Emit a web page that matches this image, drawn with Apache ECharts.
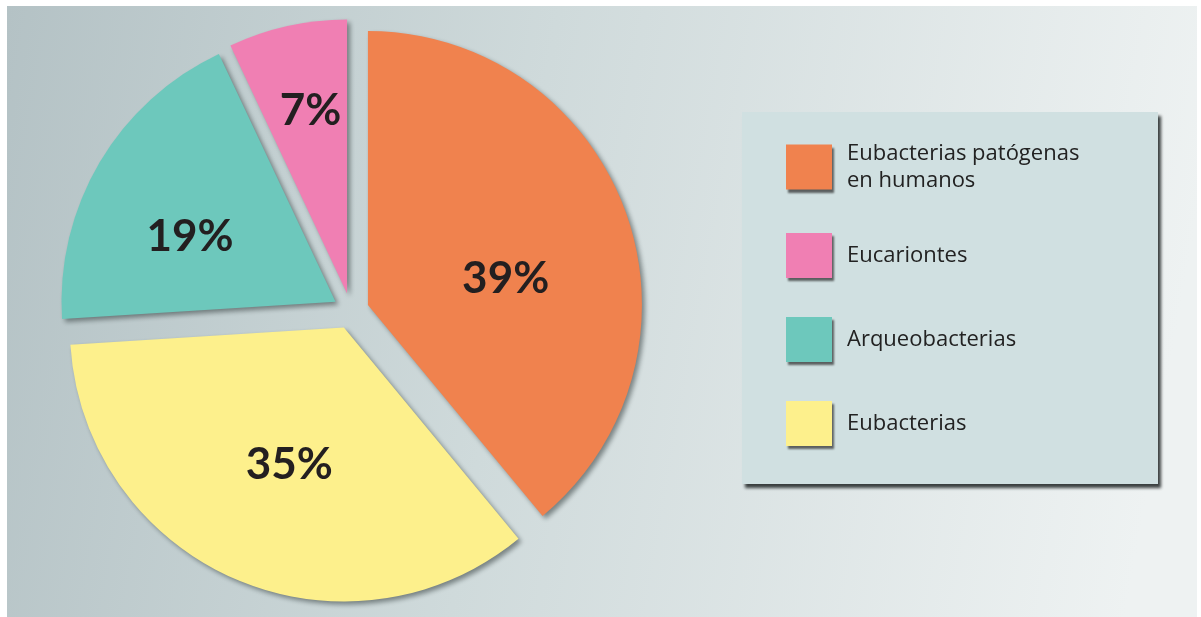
<!DOCTYPE html>
<html>
<head>
<meta charset="utf-8">
<script src="https://cdn.jsdelivr.net/npm/echarts@6/dist/echarts.min.js"></script>
<style>
html,body{margin:0;padding:0;background:#ffffff;}
#chart{width:1201px;height:617px;}
</style>
</head>
<body>
<div id="chart"></div>
<script>
// Data
const categories = ['Eubacterias patógenas\nen humanos', 'Eubacterias', 'Arqueobacterias', 'Eucariontes'];
const values = [39, 35, 19, 7];
const legendOrder = ['Eubacterias patógenas\nen humanos', 'Eucariontes', 'Arqueobacterias', 'Eubacterias'];

// Styling (not data)
const sliceColors = ['#f0824e', '#fdf08c', '#6dc8bc', '#f07fb3'];
const labelShift = [[6, 21], [1, 9], [-25, 6], [-6, -46]];

const chart = echarts.init(document.getElementById('chart'), null, {renderer: 'canvas'});

const option = {
  animation: false,
  backgroundColor: '#ffffff',
  graphic: [
    {
      type: 'rect', z: -10, silent: true,
      shape: {x: 7, y: 6, width: 1190, height: 611},
      style: {
        fill: new echarts.graphic.LinearGradient(0, 0, 1, 0.35, [
          {offset: 0, color: '#b4c2c5'},
          {offset: 0.45, color: '#cfdadb'},
          {offset: 1, color: '#eef2f2'}
        ])
      }
    },
    {
      type: 'rect', z: -5, silent: true,
      shape: {x: 742, y: 112, width: 416, height: 372},
      style: {
        fill: '#d0e0e1',
        shadowBlur: 3,
        shadowOffsetX: 3,
        shadowOffsetY: 4,
        shadowColor: 'rgba(40,45,45,0.9)'
      }
    }
  ],
  legend: {
    orient: 'vertical',
    left: 786,
    top: 140,
    padding: 0,
    data: legendOrder,
    itemWidth: 46,
    itemHeight: 45,
    itemGap: 39,
    selectedMode: false,
    icon: 'rect',
    itemStyle: {
      shadowBlur: 2,
      shadowOffsetX: 2,
      shadowOffsetY: 3,
      shadowColor: 'rgba(40,40,40,0.7)'
    },
    textStyle: {
      fontFamily: 'Open Sans',
      fontSize: 22,
      color: '#222222',
      lineHeight: 27,
      padding: [0, 0, 0, 10]
    }
  },
  series: [{
    type: 'pie',
    center: [351, 311],
    radius: [0, 274],
    startAngle: 90,
    clockwise: true,
    selectedMode: 'multiple',
    selectedOffset: 18,
    avoidLabelOverlap: false,
    itemStyle: {
      shadowBlur: 5,
      shadowOffsetX: 3,
      shadowOffsetY: 3,
      shadowColor: 'rgba(30,40,40,0.5)'
    },
    label: {
      show: true,
      position: 'inside',
      formatter: '{c}%',
      fontFamily: 'Lato',
      fontWeight: 'bold',
      fontSize: 44,
      color: '#231f20'
    },
    labelLine: {show: false},
    labelLayout: function (params) {
      const s = labelShift[params.dataIndex];
      return {dx: s[0], dy: s[1]};
    },
    emphasis: {disabled: true},
    data: categories.map(function (c, i) {
      return {name: c, value: values[i], selected: true, itemStyle: {color: sliceColors[i]}};
    })
  }]
};
chart.setOption(option);
</script>
</body>
</html>
